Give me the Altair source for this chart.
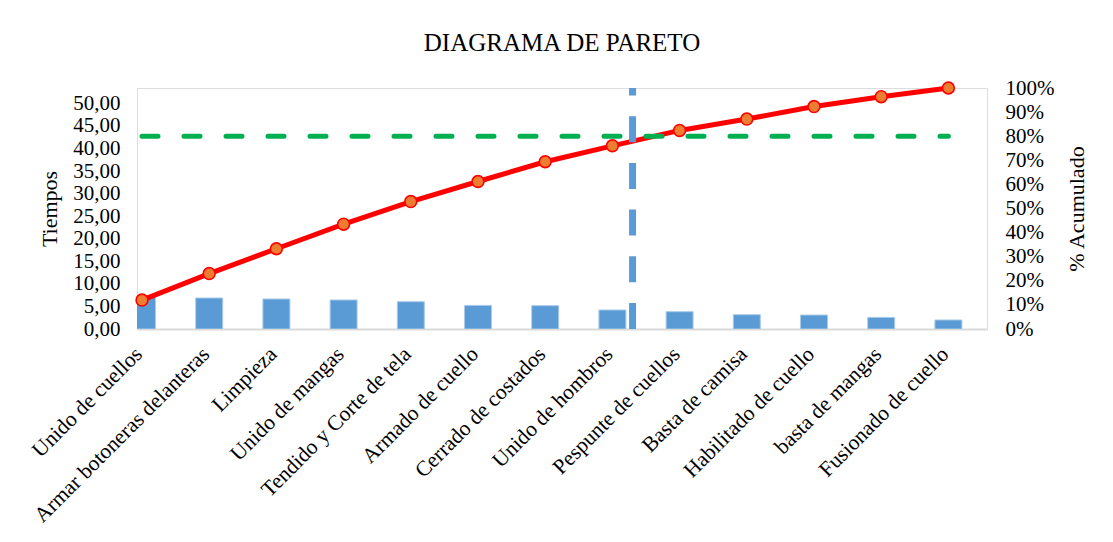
import altair as alt
import pandas as pd

categorias = ["Unido de cuellos", "Armar botoneras delanteras", "Limpieza", "Unido de mangas",
              "Tendido y Corte de tela", "Armado de cuello", "Cerrado de costados", "Unido de hombros",
              "Pespunte de cuellos", "Basta de camisa", "Habilitado de cuello", "basta de mangas",
              "Fusionado de cuello"]
tiempos = [7.3, 6.87, 6.65, 6.43, 6.05, 5.23, 5.17, 4.21, 3.84, 3.17, 3.10, 2.57, 2.00]
acumulado = [0.120, 0.230, 0.333, 0.435, 0.529, 0.612, 0.694, 0.760, 0.824, 0.871, 0.923, 0.964, 1.000]
meta = 0.80
corte = 7.3  # position of the vertical cut line on the category axis

df = pd.DataFrame({
    "idx": list(range(len(categorias))),
    "cat": categorias,
    "tiempo": tiempos,
    "acum": acumulado,
})

FONT = "Liberation Serif"
names_js = "[" + ",".join("'" + c + "'" for c in categorias) + "]"

x = alt.X("idx:Q",
          scale=alt.Scale(domain=[0, 12.5], nice=False, zero=False),
          axis=alt.Axis(values=list(range(len(categorias))),
                        labelExpr=names_js + "[datum.value]",
                        labelAngle=-45, labelFont=FONT, labelFontSize=21.5, labelColor="black",
                        labelPadding=14, labelOffset=-11, ticks=False, grid=False,
                        domainColor="#D9D9D9", domainWidth=2, title=None,
                        labelOverlap=False, labelBound=False, labelLimit=0))

base = alt.Chart(df)

bars = base.mark_bar(width=27, color="#5B9BD5", stroke="#A9CBEA", strokeWidth=1, clip=True).encode(
    x=x,
    y=alt.Y("tiempo:Q",
            scale=alt.Scale(domain=[0, 53.4], nice=False),
            axis=alt.Axis(values=[0, 5, 10, 15, 20, 25, 30, 35, 40, 45, 50],
                          labelExpr="replace(format(datum.value, '.2f'), '.', ',')",
                          title="Tiempos", titleFont=FONT, titleFontSize=22,
                          titleFontWeight="normal", titleColor="black", titlePadding=11,
                          labelFont=FONT, labelFontSize=21, labelColor="black",
                          labelPadding=17, ticks=False, grid=False, domain=False,
                          labelOverlap=False)),
)

yr = alt.Scale(domain=[0, 1], nice=False)
axis_r = alt.Axis(orient="right", format=".0%",
                  values=[0, .1, .2, .3, .4, .5, .6, .7, .8, .9, 1.0],
                  title="% Acumulado", titleFont=FONT, titleFontSize=22,
                  titleFontWeight="normal", titleColor="black", titlePadding=35,
                  titleAngle=270,
                  labelFont=FONT, labelFontSize=21, labelColor="black",
                  labelPadding=18, ticks=False, grid=False, domain=False,
                  labelOverlap=False)
yacum = alt.Y("acum:Q", scale=yr, axis=axis_r)

linea = base.mark_line(color="#FF0000", strokeWidth=5).encode(x=x, y=yacum)

puntos = base.mark_point(filled=True, shape="circle", size=140, fill="#ED7D31",
                         stroke="#FF0000", strokeWidth=1.6, opacity=1).encode(x=x, y=yacum)

verde = alt.Chart(pd.DataFrame({"idx": [0], "b": [len(categorias) - 1], "acum": [meta]})).mark_rule(
    color="#00B050", strokeWidth=5, strokeDash=[16, 26], strokeCap="round").encode(
    x=x, x2="b:Q", y=yacum)

azul = alt.Chart(pd.DataFrame({"idx": [corte], "acum": [0.0], "y1": [1.0]})).mark_rule(
    color="#5B9BD5", strokeWidth=7, strokeDash=[26, 20.7]).encode(
    x=x, y=yacum, y2="y1:Q")

derecha = alt.layer(linea, verde, azul, puntos)

chart = alt.layer(bars, derecha).resolve_scale(y="independent").properties(
    width=850, height=241,
    title=alt.Title("DIAGRAMA DE PARETO", font=FONT, fontSize=25, fontWeight="normal",
                    color="black", anchor="middle", offset=21),
    autosize=alt.AutoSizeParams(type="none"),
    padding={"left": 129, "top": 80, "right": 118, "bottom": 205},
).configure_view(stroke=None).configure(background="white")

chart.save("out.html", embed_options={"renderer": "svg", "actions": False})
